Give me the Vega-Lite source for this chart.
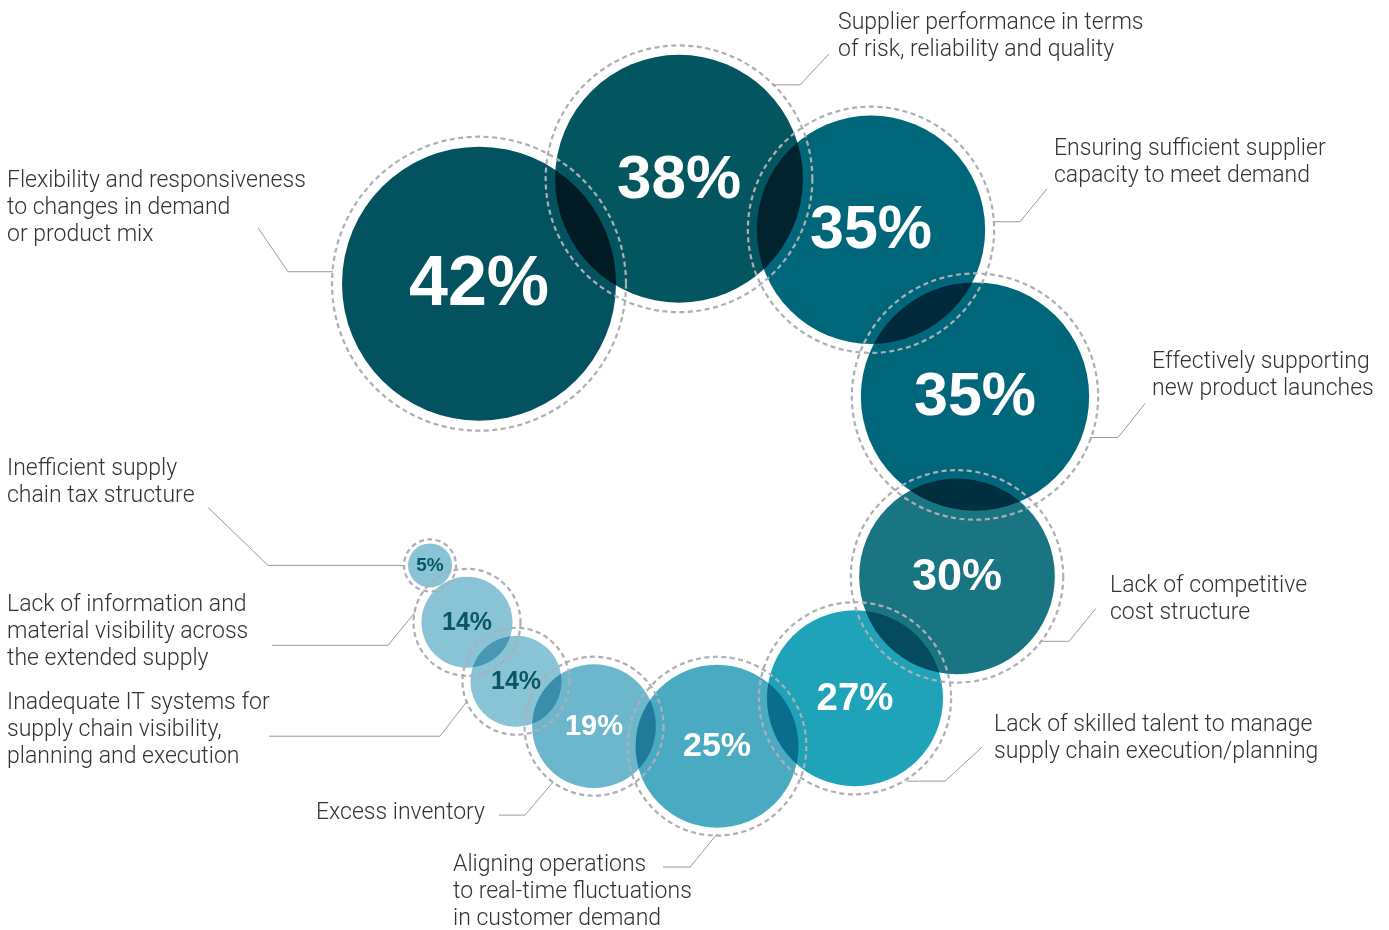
{
  "$schema": "https://vega.github.io/schema/vega-lite/v6.json",
  "width": 1389,
  "height": 930,
  "autosize": {"type": "fit", "contains": "padding"},
  "padding": 0,
  "background": "white",
  "config": {"view": {"stroke": null}},
  "datasets": {
    "bubbles": [
      {"pct": "42%", "value": 42, "x": 479, "y": 284},
      {"pct": "38%", "value": 38, "x": 679, "y": 179},
      {"pct": "35%", "value": 35, "x": 871, "y": 230},
      {"pct": "35%", "value": 35, "x": 975, "y": 397},
      {"pct": "30%", "value": 30, "x": 957, "y": 577},
      {"pct": "27%", "value": 27, "x": 855, "y": 699},
      {"pct": "25%", "value": 25, "x": 717, "y": 747},
      {"pct": "19%", "value": 19, "x": 594, "y": 727},
      {"pct": "14%", "value": 14, "x": 516, "y": 682},
      {"pct": "14%", "value": 14, "x": 467, "y": 623},
      {"pct": "5%", "value": 5, "x": 430, "y": 566}
    ],
    "leaders": [
      {"id": "flex", "ord": 1, "x": 258, "y": 228},
      {"id": "flex", "ord": 2, "x": 288, "y": 272},
      {"id": "flex", "ord": 3, "x": 333, "y": 272},
      {"id": "supp", "ord": 1, "x": 773, "y": 85},
      {"id": "supp", "ord": 2, "x": 800, "y": 85},
      {"id": "supp", "ord": 3, "x": 829, "y": 54},
      {"id": "ens", "ord": 1, "x": 993, "y": 222},
      {"id": "ens", "ord": 2, "x": 1020, "y": 222},
      {"id": "ens", "ord": 3, "x": 1047, "y": 189},
      {"id": "eff", "ord": 1, "x": 1090, "y": 438},
      {"id": "eff", "ord": 2, "x": 1118, "y": 438},
      {"id": "eff", "ord": 3, "x": 1145, "y": 404},
      {"id": "cost", "ord": 1, "x": 1042, "y": 642},
      {"id": "cost", "ord": 2, "x": 1069, "y": 642},
      {"id": "cost", "ord": 3, "x": 1096, "y": 609},
      {"id": "skill", "ord": 1, "x": 907, "y": 782},
      {"id": "skill", "ord": 2, "x": 945, "y": 782},
      {"id": "skill", "ord": 3, "x": 982, "y": 748},
      {"id": "align", "ord": 1, "x": 663, "y": 868},
      {"id": "align", "ord": 2, "x": 690, "y": 868},
      {"id": "align", "ord": 3, "x": 717, "y": 835},
      {"id": "excess", "ord": 1, "x": 499, "y": 816},
      {"id": "excess", "ord": 2, "x": 525, "y": 816},
      {"id": "excess", "ord": 3, "x": 553, "y": 783},
      {"id": "it", "ord": 1, "x": 269, "y": 737},
      {"id": "it", "ord": 2, "x": 440, "y": 737},
      {"id": "it", "ord": 3, "x": 467, "y": 702},
      {"id": "info", "ord": 1, "x": 272, "y": 646},
      {"id": "info", "ord": 2, "x": 388, "y": 646},
      {"id": "info", "ord": 3, "x": 415, "y": 613},
      {"id": "tax", "ord": 1, "x": 208, "y": 508},
      {"id": "tax", "ord": 2, "x": 268, "y": 566},
      {"id": "tax", "ord": 3, "x": 404, "y": 566}
    ],
    "labels": [
      {"text": "Flexibility and responsiveness\nto changes in demand\nor product mix", "x": 7, "y": 187},
      {"text": "Supplier performance in terms\nof risk, reliability and quality", "x": 838, "y": 29},
      {"text": "Ensuring sufficient supplier\ncapacity to meet demand", "x": 1054, "y": 155},
      {"text": "Effectively supporting\nnew product launches", "x": 1152, "y": 368},
      {"text": "Lack of competitive\ncost structure", "x": 1110, "y": 593},
      {"text": "Lack of skilled talent to manage\nsupply chain execution/planning", "x": 994, "y": 732},
      {"text": "Aligning operations\nto real-time fluctuations\nin customer demand", "x": 453, "y": 872},
      {"text": "Excess inventory", "x": 316, "y": 820},
      {"text": "Inadequate IT systems for\nsupply chain visibility,\nplanning and execution", "x": 7, "y": 710},
      {"text": "Lack of information and\nmaterial visibility across\nthe extended supply", "x": 7, "y": 612},
      {"text": "Inefficient supply\nchain tax structure", "x": 7, "y": 476}
    ]
  },
  "encoding": {
    "x": {"field": "x", "type": "quantitative", "axis": null, "scale": {"domain": [0, 1389], "nice": false, "zero": false}},
    "y": {"field": "y", "type": "quantitative", "axis": null, "scale": {"domain": [0, 930], "nice": false, "zero": false, "reverse": true}}
  },
  "layer": [
    {
      "data": {"name": "bubbles"},
      "mark": {"type": "circle", "opacity": 1, "blend": "multiply"},
      "encoding": {
        "size": {
          "field": "value", "type": "quantitative", "legend": null,
          "scale": {"type": "pow", "exponent": 2, "zero": false, "domain": [5, 14, 42], "range": [1936, 8281, 75076]}
        },
        "color": {
          "field": "value", "type": "ordinal", "legend": null,
          "scale": {
            "domain": [42, 38, 35, 30, 27, 25, 19, 14, 5],
            "range": ["#03525f", "#03555f", "#00677a", "#1a7583", "#1ea3b9", "#4aaac1", "#6cb7cc", "#89c4d6", "#89c4d6"]
          }
        }
      }
    },
    {
      "data": {"name": "bubbles"},
      "mark": {"type": "point", "shape": "circle", "filled": false, "opacity": 1, "stroke": "#aeaeb4", "strokeWidth": 2.2, "strokeDash": [5, 3.5]},
      "encoding": {
        "size": {
          "field": "value", "type": "quantitative", "legend": null,
          "scale": {"type": "pow", "exponent": 2, "zero": false, "domain": [5, 14, 42], "range": [2704, 11449, 86436]}
        }
      }
    },
    {
      "data": {"name": "leaders"},
      "mark": {"type": "line", "stroke": "#9a9a9a", "strokeWidth": 1},
      "encoding": {
        "detail": {"field": "id"},
        "order": {"field": "ord", "type": "quantitative"}
      }
    },
    {
      "data": {"name": "bubbles"},
      "mark": {"type": "text", "font": "Liberation Sans", "fontWeight": "bold", "align": "center", "baseline": "middle"},
      "encoding": {
        "text": {"field": "pct"},
        "size": {
          "field": "value", "type": "quantitative", "legend": null,
          "scale": {"zero": false, "domain": [5, 14, 25, 30, 35, 38, 42], "range": [19, 25, 34, 45, 61, 62, 70]}
        },
        "color": {"condition": {"test": "datum.value < 15", "value": "#0b5663"}, "value": "white"}
      }
    },
    {
      "data": {"name": "labels"},
      "mark": {"type": "text", "font": "Roboto", "fontWeight": 300, "fontSize": 23, "lineHeight": 27, "lineBreak": "\n", "align": "left", "baseline": "alphabetic", "color": "#333333"},
      "encoding": {
        "text": {"field": "text"}
      }
    }
  ],
  "resolve": {"scale": {"size": "independent", "color": "independent"}}
}
